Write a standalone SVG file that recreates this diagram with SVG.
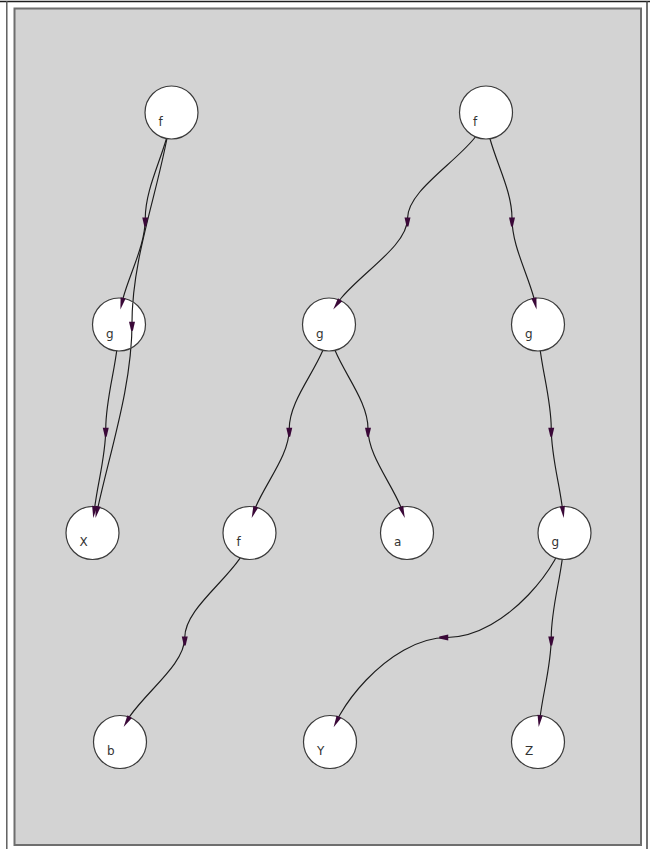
<svg xmlns="http://www.w3.org/2000/svg" width="650" height="849" viewBox="0 0 650 849">
  <style>
    .frame { fill: none; stroke-linecap: butt; }
    .edge { fill: none; stroke: #1c1c1c; stroke-width: 1.15; }
    .node circle { fill: #ffffff; stroke: #3a3a3a; stroke-width: 1.2; }
    .node text { font-family: "DejaVu Sans", Verdana, sans-serif; font-size: 12px; fill: #333333; }
    .head { fill: #3a0838; }
  </style>
  <defs>
    <!-- arrowhead at the end of an edge: tip at origin, body along -y -->
    <path id="tip" d="M0,0 L-2.6,-12 L2.6,-12 Z"/>
    <!-- direction marker at the middle of an edge: base at origin, pointing +y -->
    <path id="mid" d="M-3,-1 L3,-1 L0.9,8 L-0.9,8 Z"/>
    <clipPath id="clip-g1">
      <circle cx="119" cy="324.5" r="25.9"/>
    </clipPath>
  </defs>

  <!-- page frame -->
  <rect x="0" y="0" width="650" height="849" fill="#ffffff"/>
  <line class="frame" x1="0" y1="1.5" x2="650" y2="1.5" stroke="#1e1e1e" stroke-width="1.5"/>
  <line class="frame" x1="6.8" y1="1" x2="6.8" y2="849" stroke="#555555" stroke-width="1.4"/>
  <line class="frame" x1="647" y1="1" x2="647" y2="849" stroke="#444444" stroke-width="1.5"/>
  <rect x="14.5" y="8.5" width="626.5" height="836.5" fill="#d3d3d3" stroke="#6e6e6e" stroke-width="2"/>

  <!-- connectors -->
  <g id="connectors">
    <path id="e-f1-g1" class="edge" d="M171.5,112.5 C169,147.83 145.25,183.17 145.25,218.5 C145.25,253.83 119,289.17 119,324.5"/>
    <path id="e-f1-X" class="edge" d="M171.5,112.5 C162,182.58 132,252.67 132,322.75 C132,392.83 105.67,462.92 92.5,533"/>
    <path id="e-g1-X" class="edge" d="M119,324.5 C119,359.25 105.75,394 105.75,428.75 C105.75,463.5 92.5,498.25 92.5,533"/>
    <path id="e-f2-g2" class="edge" d="M486,112.5 C486,147.83 407.5,183.17 407.5,218.5 C407.5,253.83 329,289.17 329,324.5"/>
    <path id="e-f2-g3" class="edge" d="M486,112.5 C486,147.83 512,183.17 512,218.5 C512,253.83 538,289.17 538,324.5"/>
    <path id="e-g2-f3" class="edge" d="M329,324.5 C329,359.25 289.25,394 289.25,428.75 C289.25,463.5 249.5,498.25 249.5,533"/>
    <path id="e-g2-a" class="edge" d="M329,324.5 C329,359.25 368,394 368,428.75 C368,463.5 407,498.25 407,533"/>
    <path id="e-f3-b" class="edge" d="M249.5,533 C249.5,567.83 184.75,602.67 184.75,637.5 C184.75,672.33 120,707.17 120,742"/>
    <path id="e-g3-g4" class="edge" d="M538,324.5 C538,359.25 551.25,394 551.25,428.75 C551.25,463.5 564.5,498.25 564.5,533"/>
    <path id="e-g4-Y" class="edge" d="M564.5,533 C564.5,559 507,637.5 447.25,637.5 C387.5,637.5 330,716 330,742"/>
    <path id="e-g4-Z" class="edge" d="M564.5,533 C564.5,567.83 551.25,602.67 551.25,637.5 C551.25,672.33 538,707.17 538,742"/>
  </g>

  <!-- nodes -->
  <g id="n-f1" class="node"><circle cx="171.5" cy="112.5" r="26.5"/><text x="158.5" y="125.5">f</text></g>
  <g id="n-f2" class="node"><circle cx="486" cy="112.5" r="26.5"/><text x="473" y="125.5">f</text></g>
  <g id="n-g1" class="node"><circle cx="119" cy="324.5" r="26.5"/><text x="106" y="337.5">g</text></g>
  <g id="n-g2" class="node"><circle cx="329" cy="324.5" r="26.5"/><text x="316" y="337.5">g</text></g>
  <g id="n-g3" class="node"><circle cx="538" cy="324.5" r="26.5"/><text x="525" y="337.5">g</text></g>
  <g id="n-X" class="node"><circle cx="92.5" cy="533" r="26.5"/><text x="79.5" y="546">X</text></g>
  <g id="n-f3" class="node"><circle cx="249.5" cy="533" r="26.5"/><text x="236.5" y="546">f</text></g>
  <g id="n-a" class="node"><circle cx="407" cy="533" r="26.5"/><text x="394" y="546">a</text></g>
  <g id="n-g4" class="node"><circle cx="564.5" cy="533" r="26.5"/><text x="551.5" y="546">g</text></g>
  <g id="n-b" class="node"><circle cx="120" cy="742" r="26.5"/><text x="107" y="755">b</text></g>
  <g id="n-Y" class="node"><circle cx="330" cy="742" r="26.5"/><text x="317" y="755">Y</text></g>
  <g id="n-Z" class="node"><circle cx="538" cy="742" r="26.5"/><text x="525" y="755">Z</text></g>

  <!-- the f-to-X edge runs across the g node on its way down -->
  <g id="connector-overlay">
    <path class="edge" clip-path="url(#clip-g1)" d="M171.5,112.5 C162,182.58 132,252.67 132,322.75 C132,392.83 105.67,462.92 92.5,533"/>
  </g>

  <!-- arrowheads -->
  <g id="connector-heads" class="head">
    <use href="#mid" transform="translate(145.25,218.5)"/>
    <use href="#mid" transform="translate(132,322.75)"/>
    <use href="#mid" transform="translate(105.75,428.75)"/>
    <use href="#mid" transform="translate(407.5,218.5)"/>
    <use href="#mid" transform="translate(512,218.5)"/>
    <use href="#mid" transform="translate(289.25,428.75)"/>
    <use href="#mid" transform="translate(368,428.75)"/>
    <use href="#mid" transform="translate(184.75,637.5)"/>
    <use href="#mid" transform="translate(551.25,428.75)"/>
    <use href="#mid" transform="translate(447.25,637.5) rotate(90)"/>
    <use href="#mid" transform="translate(551.25,637.5)"/>

    <use href="#tip" transform="translate(120.4,309.5) rotate(13.2)"/>
    <use href="#tip" transform="translate(95.5,518) rotate(12.4)"/>
    <use href="#tip" transform="translate(93.25,518) rotate(7)"/>
    <use href="#tip" transform="translate(333.2,309.5) rotate(35.2)"/>
    <use href="#tip" transform="translate(536.6,309.5) rotate(-13.1)"/>
    <use href="#tip" transform="translate(251.7,518) rotate(20)"/>
    <use href="#tip" transform="translate(404.8,518) rotate(-19.7)"/>
    <use href="#tip" transform="translate(123.6,727) rotate(30.6)"/>
    <use href="#tip" transform="translate(563.75,518) rotate(-6.9)"/>
    <use href="#tip" transform="translate(333.6,727.3) rotate(26.6)"/>
    <use href="#tip" transform="translate(538.7,727) rotate(6.9)"/>
  </g>
</svg>
